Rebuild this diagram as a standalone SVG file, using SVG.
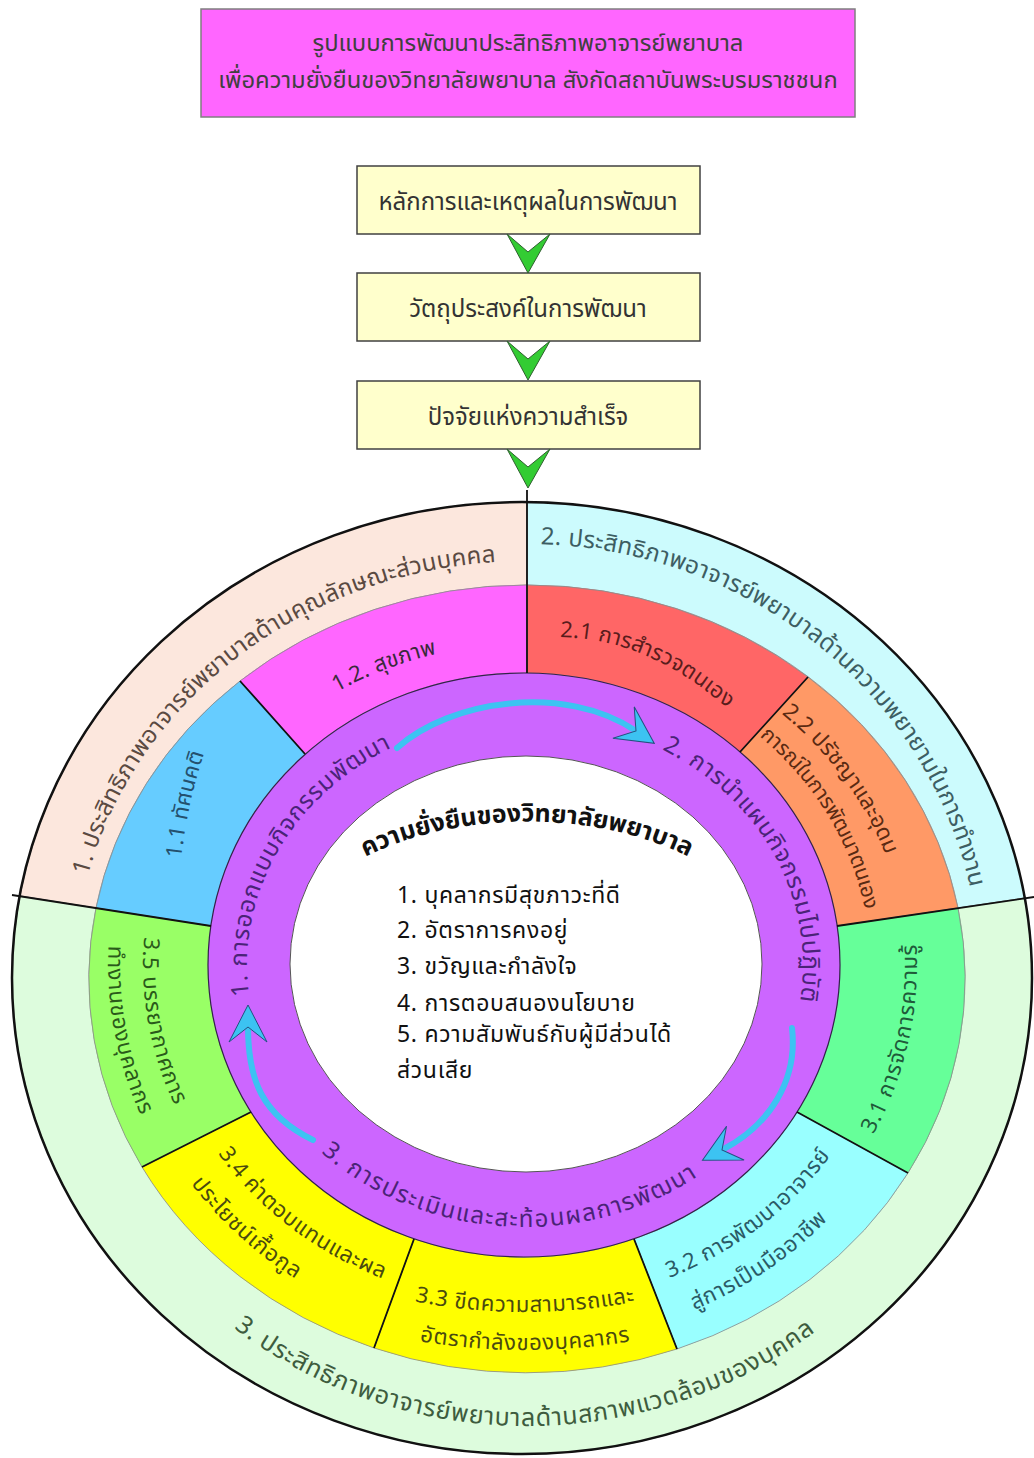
<svg xmlns="http://www.w3.org/2000/svg" width="1034" height="1458" viewBox="0 0 1034 1458">
<defs>
<style>
text{font-family:"Noto Sans Thai","Noto Sans","DejaVu Sans",sans-serif}
.ttl{font-size:23.8px;fill:#404040;text-anchor:middle}
.box{fill:#FFFFCC;stroke:#404040;stroke-width:1.5}
.bt{font-size:24px;fill:#333;text-anchor:middle}
.chev{fill:#33CC33;stroke:#2f5f2f;stroke-width:1}
.seg{stroke:#8a8a8a;stroke-width:0.8}
.div{stroke:#111;stroke-width:1.8;fill:none}
.rt{font-size:24px;letter-spacing:0.4px;dominant-baseline:central}
.rb{font-size:25px;letter-spacing:0.5px;dominant-baseline:central}
.lb{font-size:22px;letter-spacing:0.5px;dominant-baseline:central}
.pt{font-size:24px;letter-spacing:1.2px;fill:#4a2377;dominant-baseline:central}
.li{font-size:23px;letter-spacing:0.7px;fill:#111}
.flow{fill:none;stroke:#3CC3F2;stroke-width:6;stroke-linecap:round;marker-end:url(#bh)}
</style>
<marker id="bh" markerUnits="userSpaceOnUse" viewBox="-20 -25 50 50" markerWidth="50" markerHeight="50" refX="0" refY="0" orient="auto" overflow="visible">
<path d="M22 0 L-15 -19 L0 0 L-15 19 Z" fill="#3CC3F2" stroke="#24507F" stroke-width="1"/>
</marker>
<path id="po1" d="M 68.6 942.5 A 460 424 0 0 1 565.5 555.5"/>
<path id="po2" d="M 486.9 538.7 A 460 441 0 0 1 985.3 939.6"/>
<path id="po3" d="M 198.3 1287.2 A 462 440 0 0 0 851.7 1291"/>
<path id="pp1" d="M 247.3 1022.4 A 285 255 0 0 1 413.7 730.3"/>
<path id="pp2" d="M 642.3 732.6 A 285 255 0 0 1 801.2 1028"/>
<path id="pp3" d="M 300.4 1122 A 285 255 0 0 0 723 1148.4"/>
<path id="pc" d="M 350 856 A 254 150 0 0 1 704 856"/>
<path id="p12" d="M 300.3 706.5 A 365 328 0 0 1 474.2 640.2"/>
<path id="p11" d="M 172 880 Q 178 800 205 730"/>
<path id="p21" d="M 536 631 Q 650 621 750 720"/>
<path id="p22a" d="M 786 708.2 A 390 355 0 0 1 913.5 941"/>
<path id="p22b" d="M 764 731 A 353 321 0 0 1 877.8 960.8"/>
<path id="p31" d="M 858.4 1146 A 385 362 0 0 0 907.9 927.2"/>
<path id="p32a" d="M 672.2 1269.2 A 362 333 0 0 0 821.5 1156"/>
<path id="p32b" d="M 675.6 1309.9 A 402 372 0 0 0 834.7 1202.1"/>
<path id="p33a" d="M 402.6 1291.8 A 444 340 0 0 0 647.4 1291.8"/>
<path id="p33b" d="M 382 1326.5 A 489 378 0 0 0 668 1326.5"/>
<path id="p34a" d="M 224.9 1151.2 A 362 333 0 0 0 383.6 1271.5"/>
<path id="p34b" d="M 187.8 1167.6 A 402 372 0 0 0 312 1280.5"/>
<path id="p35a" d="M 152.1 928.9 A 375 345 0 0 0 185.1 1110.8"/>
<path id="p35b" d="M 117.3 925.3 A 410 380 0 0 0 156.5 1131.6"/>
</defs>

<g id="title">
<rect x="201" y="9" width="654" height="108" fill="#FF66FF" stroke="#7f7f7f" stroke-width="1.5"/>
<text class="ttl" x="528" y="51">รูปแบบการพัฒนาประสิทธิภาพอาจารย์พยาบาล</text>
<text class="ttl" x="528" y="88">เพื่อความยั่งยืนของวิทยาลัยพยาบาล สังกัดสถาบันพระบรมราชชนก</text>
</g>
<g id="box1"><rect class="box" x="357" y="166" width="343" height="68"/><text class="bt" x="528" y="210">หลักการและเหตุผลในการพัฒนา</text></g>
<g id="box2"><rect class="box" x="357" y="273" width="343" height="68"/><text class="bt" x="528" y="317">วัตถุประสงค์ในการพัฒนา</text></g>
<g id="box3"><rect class="box" x="357" y="381" width="343" height="68"/><text class="bt" x="528" y="425">ปัจจัยแห่งความสำเร็จ</text></g>

<g id="outer-ring">
<path id="seg1" class="seg" fill="#FCE7DD" d="M 20 896 A 510 476 0 0 1 527 502 L 527 585 A 438 394 0 0 0 96 908 Z"/>
<path id="seg2" class="seg" fill="#CCFBFD" d="M 527 502 A 510 476 0 0 1 1025 898 L 958 908 A 438 394 0 0 0 527 585 Z"/>
<path id="seg3" class="seg" fill="#DDFCDD" d="M 1025 898 A 510 476 0 1 1 20 896 L 96 908 A 438 394 0 1 0 958 908 Z"/>
</g>
<g id="middle-ring">
<path id="s12" class="seg" fill="#FF66FF" d="M 240 681 A 438 394 0 0 1 527 585 L 527 673 A 316 292 0 0 0 305 754 Z"/>
<path id="s11" class="seg" fill="#66CCFF" d="M 96 908 A 438 394 0 0 1 240 681 L 305 754 A 316 292 0 0 0 211 926 Z"/>
<path id="s21" class="seg" fill="#FF6666" d="M 527 585 A 438 394 0 0 1 808 677 L 740 752 A 316 292 0 0 0 527 673 Z"/>
<path id="s22" class="seg" fill="#FF9966" d="M 808 677 A 438 394 0 0 1 958 908 L 837 926 A 316 292 0 0 0 740 752 Z"/>
<path id="s31" class="seg" fill="#66FF99" d="M 958 908 A 438 394 0 0 1 908 1173 L 797 1112 A 316 292 0 0 0 837 926 Z"/>
<path id="s32" class="seg" fill="#99FFFF" d="M 908 1173 A 438 394 0 0 1 677 1349 L 634 1239 A 316 292 0 0 0 797 1112 Z"/>
<path id="s33" class="seg" fill="#FFFF00" d="M 677 1349 A 438 394 0 0 1 374 1348 L 414 1239 A 316 292 0 0 0 634 1239 Z"/>
<path id="s34" class="seg" fill="#FFFF00" d="M 374 1348 A 438 394 0 0 1 142 1167 L 251 1112 A 316 292 0 0 0 414 1239 Z"/>
<path id="s35" class="seg" fill="#99FF66" d="M 142 1167 A 438 394 0 0 1 96 908 L 211 926 A 316 292 0 0 0 251 1112 Z"/>
</g>
<g id="process-ring">
<ellipse cx="524" cy="965" rx="316" ry="292" fill="#CC66FF" stroke="#33224a" stroke-width="1.2"/>
</g>
<g id="center">
<ellipse cx="526" cy="964" rx="236" ry="208" fill="#FFFFFF" stroke="#555" stroke-width="1"/>
</g>
<g id="dividers">
<ellipse cx="522" cy="978" rx="510" ry="476" fill="none" stroke="#111" stroke-width="2.5"/>
<path class="div" d="M527 490 V673 M12 895 L211 926 M1034 897 L837 926 M240 681 L305 754 M808 677 L740 752 M908 1173 L797 1112 M677 1349 L634 1239 M374 1348 L414 1239 M142 1167 L251 1112"/>
</g>

<g id="ring-texts">
<text class="rt" fill="#5a4a42"><textPath href="#po1" startOffset="50%" text-anchor="middle">1. ประสิทธิภาพอาจารย์พยาบาลด้านคุณลักษณะส่วนบุคคล</textPath></text>
<text class="rt" fill="#3d5e63"><textPath href="#po2" startOffset="50%" text-anchor="middle">2. ประสิทธิภาพอาจารย์พยาบาลด้านความพยายามในการทำงาน</textPath></text>
<text class="rb" fill="#3e5c3e"><textPath href="#po3" startOffset="50%" text-anchor="middle">3. ประสิทธิภาพอาจารย์พยาบาลด้านสภาพแวดล้อมของบุคคล</textPath></text>
<text class="lb" fill="#3a2a3a"><textPath href="#p12" startOffset="50%" text-anchor="middle">1.2. สุขภาพ</textPath></text>
<text class="lb" fill="#24506e"><textPath href="#p11" startOffset="50%" text-anchor="middle">1.1 ทัศนคติ</textPath></text>
<text class="lb" fill="#5a1c1c"><textPath href="#p21" startOffset="50%" text-anchor="middle">2.1 การสำรวจตนเอง</textPath></text>
<text class="lb" fill="#5a2a12"><textPath href="#p22a">2.2 ปรัชญาและอุดม</textPath></text>
<text class="lb" fill="#5a2a12" style="font-size:21px;letter-spacing:0"><textPath href="#p22b">การณ์ในการพัฒนาตนเอง</textPath></text>
<text class="lb" fill="#1f5a3a"><textPath href="#p31" startOffset="50%" text-anchor="middle">3.1 การจัดการความรู้</textPath></text>
<text class="lb" fill="#2a5a66"><textPath href="#p32a" startOffset="50%" text-anchor="middle">3.2 การพัฒนาอาจารย์</textPath></text>
<text class="lb" fill="#2a5a66"><textPath href="#p32b" startOffset="50%" text-anchor="middle">สู่การเป็นมืออาชีพ</textPath></text>
<text class="lb" fill="#4a4a10"><textPath href="#p33a" startOffset="50%" text-anchor="middle">3.3 ขีดความสามารถและ</textPath></text>
<text class="lb" fill="#4a4a10"><textPath href="#p33b" startOffset="50%" text-anchor="middle">อัตรากำลังของบุคลากร</textPath></text>
<text class="lb" fill="#4a4a10"><textPath href="#p34a" startOffset="50%" text-anchor="middle">3.4 ค่าตอบแทนและผล</textPath></text>
<text class="lb" fill="#4a4a10"><textPath href="#p34b" startOffset="50%" text-anchor="middle">ประโยชน์เกื้อกูล</textPath></text>
<text class="lb" fill="#2a5a1a"><textPath href="#p35a" startOffset="50%" text-anchor="middle">3.5 บรรยากาศการ</textPath></text>
<text class="lb" fill="#2a5a1a"><textPath href="#p35b" startOffset="50%" text-anchor="middle">ทำงานของบุคลากร</textPath></text>
<text class="pt"><textPath href="#pp1" startOffset="50%" text-anchor="middle">1. การออกแบบกิจกรรมพัฒนา</textPath></text>
<text class="pt"><textPath href="#pp2" startOffset="50%" text-anchor="middle">2. การนำแผนกิจกรรมไปปฏิบัติ</textPath></text>
<text class="pt"><textPath href="#pp3" startOffset="50%" text-anchor="middle">3. การประเมินและสะท้อนผลการพัฒนา</textPath></text>
</g>
<g id="center-text">
<text style="font-size:25px;letter-spacing:0.3px;font-weight:bold;fill:#111;dominant-baseline:central"><textPath href="#pc" startOffset="50%" text-anchor="middle">ความยั่งยืนของวิทยาลัยพยาบาล</textPath></text>
<text class="li" x="397" y="903">1. บุคลากรมีสุขภาวะที่ดี</text>
<text class="li" x="397" y="938">2. อัตราการคงอยู่</text>
<text class="li" x="397" y="974">3. ขวัญและกำลังใจ</text>
<text class="li" x="397" y="1011">4. การตอบสนองนโยบาย</text>
<text class="li" x="397" y="1042">5. ความสัมพันธ์กับผู้มีส่วนได้</text>
<text class="li" x="397" y="1078">ส่วนเสีย</text>
</g>

<g id="connectors">
<path class="chev" d="M507 234 L528 273 L550 234 L528 252 Z"/>
<path class="chev" d="M507 341 L528 380 L550 341 L528 359 Z"/>
<path class="chev" d="M507 449 L528 488 L550 449 L528 467 Z"/>
<path class="flow" d="M 397 748 C 450 700, 565 683, 636 731"/>
<path class="flow" d="M 792 1028 C 798 1080, 770 1125, 722 1150"/>
<path class="flow" d="M 313 1140 C 262 1115, 248 1080, 248 1027"/>
</g>
</svg>
